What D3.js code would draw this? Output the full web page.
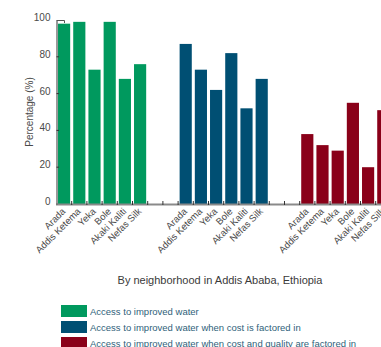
<!DOCTYPE html>
<html>
<head>
<meta charset="utf-8">
<script src="https://cdn.jsdelivr.net/npm/d3@7/dist/d3.min.js"></script>
<style>
  html, body { margin: 0; padding: 0; background: #fff; overflow: hidden; }
  svg { display: block; }
  text { font-family: "Liberation Sans Narrow", "Arial Narrow", "Liberation Sans", Arial, sans-serif; }
</style>
</head>
<body>
<svg id="chart" width="381" height="347"></svg>
<script>
// Neighborhoods of Addis Ababa (repeated for each measure)
const neighborhoods = ["Arada", "Addis Ketema", "Yeka", "Bole", "Akaki Kaliti", "Nefas Silk"];
// Share of households (%) per measure
const improvedWater = [98, 99, 73, 99, 68, 76];
const costFactored = [87, 73, 62, 82, 52, 68];
const costQualityFactored = [38, 32, 29, 55, 20, 51];
const seriesNames = [
  "Access to improved water",
  "Access to improved water when cost is factored in",
  "Access to improved water when cost and quality are factored in"
];
const seriesColors = ["#00995e", "#004f73", "#8a0019"];
const yTicks = [0, 20, 40, 60, 80, 100];

const seriesValues = [improvedWater, costFactored, costQualityFactored];
const gapSlots = 2;

// Build the slot list: six bars per series with two empty slots in between
const slots = [];
seriesValues.forEach((vals, s) => {
  vals.forEach((v, i) => slots.push({ key: s + "-" + i, series: s, name: neighborhoods[i], value: v }));
  if (s < seriesValues.length - 1) {
    for (let g = 0; g < gapSlots; g++) slots.push({ key: "gap" + s + "-" + g, gap: true });
  }
});

const svg = d3.select("#chart");
const y0 = 204, y1 = 20;
const x = d3.scaleBand()
  .domain(slots.map(d => d.key))
  .range([56.5, 56.5 + slots.length * 15.2])
  .paddingInner(0.2)
  .paddingOuter(0.1);
const y = d3.scaleLinear().domain([0, 100]).range([y0, y1]);

// Bars
svg.append("g").selectAll("rect")
  .data(slots.filter(d => !d.gap))
  .join("rect")
  .attr("x", d => x(d.key))
  .attr("width", x.bandwidth())
  .attr("y", d => y(d.value))
  .attr("height", d => y0 - y(d.value))
  .attr("fill", d => seriesColors[d.series]);

// X axis baseline and ticks between slots
svg.append("line")
  .attr("x1", 56).attr("x2", 400)
  .attr("y1", y0 + 0.5).attr("y2", y0 + 0.5)
  .attr("stroke", "#8a8a8a").attr("stroke-width", 2);
svg.append("g").selectAll("line")
  .data(slots.slice(0, -1))
  .join("line")
  .attr("x1", d => x(d.key) + x.step() - x.step() * 0.1)
  .attr("x2", d => x(d.key) + x.step() - x.step() * 0.1)
  .attr("y1", y0 - 3).attr("y2", y0 + 1)
  .attr("stroke", "#333").attr("stroke-width", 1);

// X labels, rotated
svg.append("g").selectAll("text")
  .data(slots.filter(d => !d.gap))
  .join("text")
  .attr("transform", d => `translate(${x(d.key) + x.bandwidth() / 2 + 2},${y0 + 8}) rotate(-45)`)
  .attr("text-anchor", "end")
  .attr("font-size", 9.5)
  .attr("fill", "#4a4a4a")
  .text(d => d.name);

// Y axis
const yAxis = d3.axisLeft(y).tickValues(yTicks).tickSize(0).tickPadding(6);
const gy = svg.append("g").attr("transform", "translate(56.5,0)").call(yAxis);
gy.select(".domain").attr("stroke", "#555").attr("stroke-width", 1.2);
gy.selectAll("text")
  .attr("font-size", 10)
  .attr("fill", "#4a4a4a")
  .attr("dy", "0.05em")
  .style("font-family", "'Liberation Sans Narrow', 'Liberation Sans', Arial, sans-serif");
// small inner ticks
svg.append("g").selectAll("line")
  .data(yTicks.filter(t => t > 0 && t < 100))
  .join("line")
  .attr("x1", 56.5).attr("x2", 59)
  .attr("y1", d => y(d)).attr("y2", d => y(d))
  .attr("stroke", "#333");
// top cap
svg.append("path")
  .attr("d", `M56.5,${y1 + 0.5}H64.5V${y1 + 3}`)
  .attr("fill", "none").attr("stroke", "#555").attr("stroke-width", 1);

// Y title
svg.append("text")
  .attr("transform", `translate(33,${(y0 + y1) / 2}) rotate(-90)`)
  .attr("text-anchor", "middle")
  .attr("font-size", 10)
  .attr("fill", "#4a4a4a")
  .text("Percentage (%)");

// X title
svg.append("text")
  .attr("x", 220).attr("y", 284)
  .attr("text-anchor", "middle")
  .attr("font-size", 11)
  .attr("fill", "#3a3a3a")
  .text("By neighborhood in Addis Ababa, Ethiopia");

// Legend
const legend = svg.append("g").attr("transform", "translate(61,305)");
const items = legend.selectAll("g")
  .data(seriesNames)
  .join("g")
  .attr("transform", (d, i) => `translate(0,${i * 16})`);
items.append("rect")
  .attr("width", 26).attr("height", 12)
  .attr("fill", (d, i) => seriesColors[i]);
items.append("text")
  .attr("x", 29).attr("y", 9.5)
  .attr("font-size", 9.5)
  .attr("fill", "#2f5f7a")
  .text(d => d);
</script>
</body>
</html>
